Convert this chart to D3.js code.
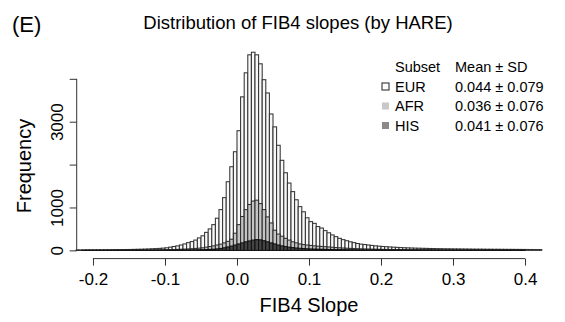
<!DOCTYPE html>
<html>
<head>
<meta charset="utf-8">
<script src="https://cdn.jsdelivr.net/npm/d3@7"></script>
<style>
  body { margin: 0; background: #fff; }
  svg { font-family: "Liberation Sans", Arial, Helvetica, sans-serif; }
</style>
</head>
<body>
<div class="hist"></div>
<script>
// histogram bins: width 0.005, first bin starts at -0.225
var binStart = -0.225;
var binWidth = 0.005;

// counts per bin
var eurCounts = [8,8,9,10,10,11,12,12,13,14,15,16,17,18,20,21,23,25,27,30,33,37,41,46,52,
    60,75,90,105,125,150,180,205,240,290,340,420,500,600,750,950,1230,1600,1950,2300,
    2790,3580,4140,4560,4620,4560,4350,3980,3670,3180,2880,2450,2100,1810,1570,1370,1180,1020,900,760,
    670,630,555,520,460,410,360,320,280,250,225,200,180,160,145,135,125,115,105,98,
    90,85,80,74,70,65,61,58,55,52,50,48,46,44,42,40,39,37,36,35,
    34,33,32,31,30,29,28,28,27,26,26,25,25,24,24,23,23,22,22,21,21,20,20,19,19];

var afrCounts = [2,2,2,3,3,3,3,4,4,4,5,5,5,6,6,7,7,8,8,9,10,11,12,13,14,
    16,18,20,23,26,30,34,39,45,52,60,75,90,105,125,145,175,210,260,400,
    600,790,950,1070,1150,1170,1090,950,780,640,470,380,330,280,240,200,175,150,135,125,
    115,105,98,92,86,80,72,66,60,55,50,46,42,39,36,33,31,29,27,25,
    23,22,21,20,19,18,18,17,16,16,15,15,14,14,13,13,12,12,12,11,
    11,11,10,10,10,10,9,9,9,9,9,8,8,8,8,8,8,8,8,8];

var hisCounts = [0,0,1,1,1,1,1,1,1,1,1,2,2,2,2,2,2,3,3,3,3,4,4,4,5,
    5,6,6,7,8,9,10,11,12,14,16,19,22,27,35,45,60,80,100,125,
    150,175,200,220,240,250,245,225,200,175,150,125,105,88,75,64,55,48,42,37,
    33,30,27,25,23,21,19,18,17,16,15,14,13,12,12,11,10,10,9,9,
    8,8,8,7,7,7,6,6,6,6,5,5,5,5,5,4,4,4,4,4,
    4,4,3,3,3,3,3,3,3,3,3,2,2,2,2,2,2,2,2,2];

var xTicks = [-0.2, -0.1, 0.0, 0.1, 0.2, 0.3, 0.4];
var xTickLabels = ["-0.2", "-0.1", "0.0", "0.1", "0.2", "0.3", "0.4"];
var yTicks = [0, 1000, 2000, 3000, 4000];
var yTickLabels = ["0", "1000", "", "3000", ""];

var subsets = ["EUR", "AFR", "HIS"];
var meanSD = ["0.044 \u00b1 0.079", "0.036 \u00b1 0.076", "0.041 \u00b1 0.076"];

var svgWidth = 565;
var svgHeight = 322;

// plot region (R style, 4% padding round xlim / ylim)
var plot = { left: 75.7, right: 542.3, top: 44, bottom: 258.6 };

var svg = d3.select(".hist")
    .append("svg")
    .attr("width", svgWidth)
    .attr("height", svgHeight);

var xScale = d3.scaleLinear()
    .domain([-0.224, 0.424])
    .range([plot.left, plot.right]);

var yScale = d3.scaleLinear()
    .domain([-192, 4812])
    .range([plot.bottom, plot.top]);

svg.append("clipPath")
    .attr("id", "plotClip")
    .append("rect")
    .attr("x", plot.left)
    .attr("y", 0)
    .attr("width", plot.right - plot.left)
    .attr("height", plot.bottom);

var chart = svg.append("g").attr("clip-path", "url(#plotClip)");

function drawHist(counts, fill, stroke) {
    chart.append("g")
        .selectAll("rect")
        .data(counts)
        .enter()
        .append("rect")
        .attr("x", (d, i) => xScale(binStart + i * binWidth))
        .attr("width", (d, i) => xScale(binStart + (i + 1) * binWidth) - xScale(binStart + i * binWidth))
        .attr("y", d => yScale(d))
        .attr("height", d => yScale(0) - yScale(d))
        .attr("fill", fill)
        .attr("stroke", stroke)
        .attr("stroke-width", 1.05);
}

drawHist(eurCounts, "#f8f8f8", "#333333");
drawHist(afrCounts, "#c4c4c4", "#2e2e2e");
drawHist(hisCounts, "#444444", "#111111");

// x axis
var xAxis = svg.append("g")
    .attr("transform", "translate(0," + plot.bottom + ")")
    .call(d3.axisBottom(xScale).tickValues(xTicks).tickSize(7).tickFormat((d, i) => xTickLabels[i]));
xAxis.select(".domain").remove();
xAxis.append("line")
    .attr("x1", xScale(xTicks[0])).attr("x2", xScale(xTicks[xTicks.length - 1]))
    .attr("stroke", "#333").attr("stroke-width", 1);
xAxis.selectAll(".tick line").attr("stroke", "#333");
xAxis.selectAll(".tick text")
    .attr("y", 14)
    .attr("dy", "0.71em")
    .attr("fill", "#000")
    .style("font-size", "17px")
    .style("font-family", "Liberation Sans, Arial, sans-serif");

// y axis
var yAxis = svg.append("g")
    .attr("transform", "translate(" + (plot.left + 1) + ",0)")
    .call(d3.axisLeft(yScale).tickValues(yTicks).tickSize(7).tickFormat((d, i) => yTickLabels[i]));
yAxis.select(".domain").remove();
yAxis.append("line")
    .attr("y1", yScale(yTicks[0])).attr("y2", yScale(yTicks[yTicks.length - 1]))
    .attr("stroke", "#333").attr("stroke-width", 1);
yAxis.selectAll(".tick line").attr("stroke", "#333");
yAxis.selectAll(".tick text")
    .attr("x", null).attr("dy", null)
    .attr("transform", "translate(-14,0) rotate(-90)")
    .attr("text-anchor", "middle")
    .attr("fill", "#000")
    .style("font-size", "17px")
    .style("font-family", "Liberation Sans, Arial, sans-serif");

// titles
svg.append("text")
    .attr("x", 12).attr("y", 32)
    .style("font-size", "22px")
    .text("(E)");

svg.append("text")
    .attr("x", 298).attr("y", 29)
    .attr("text-anchor", "middle")
    .style("font-size", "18.5px")
    .text("Distribution of FIB4 slopes (by HARE)");

svg.append("text")
    .attr("x", 309).attr("y", 312)
    .attr("text-anchor", "middle")
    .style("font-size", "20px")
    .text("FIB4 Slope");

svg.append("text")
    .attr("transform", "translate(31," + 166 + ") rotate(-90)")
    .attr("text-anchor", "middle")
    .style("font-size", "20px")
    .text("Frequency");

// legend
var legend = svg.append("g").style("font-size", "14.5px");
var legendFill = ["#ffffff", "#c8c8c8", "#8a8a8a"];
var legendStroke = ["#444", "none", "none"];
var rowY = [86.5, 106, 125.5];

legend.append("text").attr("x", 395).attr("y", 72).text("Subset");
legend.append("text").attr("x", 455).attr("y", 72).text("Mean \u00b1 SD");

subsets.forEach(function(s, i) {
    legend.append("rect")
        .attr("x", 382).attr("y", rowY[i] - 3.5)
        .attr("width", 7).attr("height", 7)
        .attr("fill", legendFill[i])
        .attr("stroke", legendStroke[i])
        .attr("stroke-width", 1.2);
    legend.append("text").attr("x", 395).attr("y", rowY[i] + 5).text(s);
    legend.append("text").attr("x", 455).attr("y", rowY[i] + 5).text(meanSD[i]);
});
</script>
</body>
</html>
